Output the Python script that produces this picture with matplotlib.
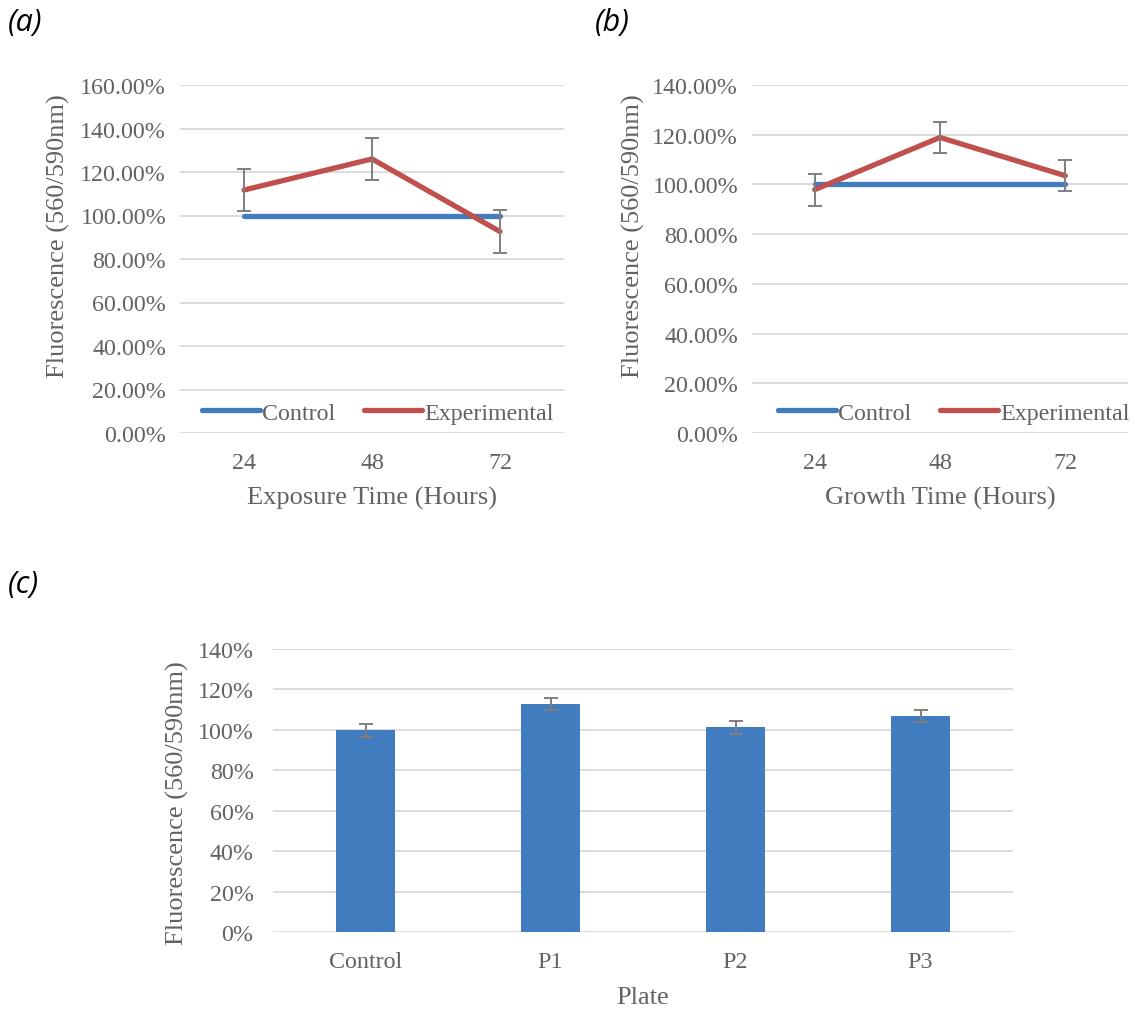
import matplotlib.pyplot as plt
import numpy as np

# data
hours = ['24', '48', '72']
exposure_control = [100.0, 100.0, 100.0]
exposure_control_err = [0.0, 0.0, 0.0]
exposure_exp = [111.7, 126.0, 92.6]
exposure_exp_err = [9.6, 9.6, 9.7]

growth_control = [100.0, 100.0, 100.0]
growth_control_err = [0.0, 0.0, 0.0]
growth_exp = [97.9, 118.9, 103.5]
growth_exp_err = [6.4, 6.2, 6.2]

plates = ['Control', 'P1', 'P2', 'P3']
plate_vals = [99.8, 112.8, 101.2, 106.8]
plate_err = [3.1, 3.1, 3.2, 3.1]

blue = '#417CBE'
red = '#C0504D'
grey_txt = '#626262'
grid_col = '#D9D9D9'
err_col = '#7F7F7F'
serif = 'Liberation Serif'

W, H = 1135, 1012
fig = plt.figure(figsize=(W / 100, H / 100), dpi=100)


def px_axes(x0, x1, ytop, ybot):
    return fig.add_axes([x0 / W, 1 - ybot / H, (x1 - x0) / W, (ybot - ytop) / H])


def style(ax, ymax, step, fmt):
    ax.set_ylim(0, ymax)
    ticks = np.arange(0, ymax + 0.01, step)
    ax.set_yticks(ticks)
    ax.set_yticklabels([fmt.format(t) for t in ticks])
    ax.grid(axis='y', color=grid_col, linewidth=1.3, zorder=0)
    ax.set_axisbelow(True)
    for s in ax.spines.values():
        s.set_visible(False)
    ax.tick_params(axis='both', length=0, labelsize=17.3, colors=grey_txt)
    ax.tick_params(axis='y', pad=10)
    ax.tick_params(axis='x', pad=14)
    for lab in ax.get_xticklabels() + ax.get_yticklabels():
        lab.set_family(serif)


def line_panel(ax, ctrl, ctrl_err, exp, exp_err, ymax, xlabel, ylab_y, leg_x):
    x = np.arange(len(hours))
    ax.plot(x, ctrl, color=blue, lw=3.8, solid_capstyle='round', zorder=3, label='Control')
    ax.plot(x, exp, color=red, lw=3.8, solid_capstyle='round', zorder=3, label='Experimental')
    ax.errorbar(x, exp, yerr=exp_err, fmt='none', ecolor=err_col, elinewidth=1.4,
                capsize=5, capthick=1.4, zorder=4)
    ax.set_xlim(-0.5, len(hours) - 0.5)
    ax.set_xticks(x)
    ax.set_xticklabels(hours)
    style(ax, ymax, 20, '{:.2f}%')
    ax.set_xlabel(xlabel, fontsize=19, color=grey_txt, family=serif)
    ax.xaxis.set_label_coords(0.5, -0.185)
    ax.xaxis.label.set_va('center')
    ax.set_ylabel('Fluorescence (560/590nm)', fontsize=19, color=grey_txt, family=serif)
    ax.yaxis.set_label_coords(-0.316, ylab_y)
    ax.yaxis.label.set_va('center')
    leg = ax.legend(loc='center', bbox_to_anchor=(leg_x, 0.058), ncol=2, frameon=False,
                    prop={'family': serif, 'size': 17.3}, handlelength=2.4,
                    handletextpad=0.1, columnspacing=1.2, borderpad=0, borderaxespad=0)
    for t in leg.get_texts():
        t.set_color(grey_txt)


# (a)
ax_a = px_axes(180, 564, 86, 434)
line_panel(ax_a, exposure_control, exposure_control_err, exposure_exp, exposure_exp_err,
           160, 'Exposure Time (Hours)', 0.57, 0.516)

# (b)
ax_b = px_axes(752, 1128, 86, 434)
line_panel(ax_b, growth_control, growth_control_err, growth_exp, growth_exp_err,
           140, 'Growth Time (Hours)', 0.57, 0.537)

# (c)
ax_c = px_axes(273, 1013, 650, 933)
xc = np.arange(len(plates))
ax_c.bar(xc, plate_vals, width=0.315, color=blue, zorder=2)
ax_c.errorbar(xc, plate_vals, yerr=plate_err, fmt='none', ecolor=err_col, elinewidth=1.4,
              capsize=5, capthick=1.4, zorder=3)
ax_c.set_xlim(-0.5, len(plates) - 0.5)
ax_c.set_xticks(xc)
ax_c.set_xticklabels(plates)
style(ax_c, 140, 20, '{:.0f}%')
ax_c.tick_params(axis='y', pad=14)
ax_c.set_xlabel('Plate', fontsize=19, color=grey_txt, family=serif)
ax_c.xaxis.set_label_coords(0.5, -0.23)
ax_c.xaxis.label.set_va('center')
ax_c.set_ylabel('Fluorescence (560/590nm)', fontsize=19, color=grey_txt, family=serif)
ax_c.yaxis.set_label_coords(-0.129, 0.46)
ax_c.yaxis.label.set_va('center')

# panel letters
for txt, px, py in [('(a)', 8, 23), ('(b)', 595, 23), ('(c)', 8, 585)]:
    fig.text(px / W, 1 - py / H, txt, fontsize=22, style='italic', family='Open Sans',
             color='black', va='center', ha='left')

fig.savefig('out.png', dpi=100, facecolor='white')
